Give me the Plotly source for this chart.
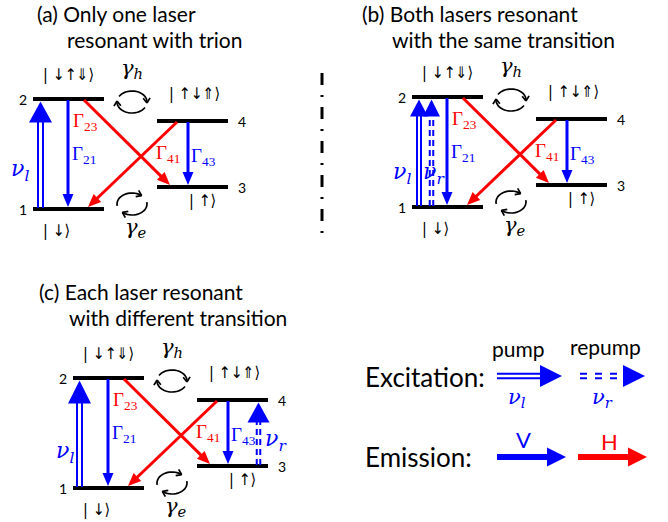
import math
import plotly.graph_objects as go

W, H = 668, 522
BLUE = "#0000FF"
RED = "#FF0000"
BLACK = "#000000"
SANS = "Lato"
SERIF = "Liberation Serif"
MATH = "DejaVu Serif"
SYM = "DejaVu Sans Condensed, DejaVu Sans"

# ---------------- data ----------------
panel_ids = ["a", "b", "c"]
panel_title_1 = ["(a) Only one laser", "(b) Both lasers resonant", "(c) Each laser resonant"]
panel_title_2 = ["resonant with trion", "with the same transition", "with different transition"]

level_ids = [1, 2, 3, 4]
level_kets = ["| ↓⟩", "| ↓↑⇓⟩", "| ↑⟩", "| ↑↓⇑⟩"]
level_rel_energy = [0, 110, 22, 88]          # height above level 1 (px scale of diagram)
level_column = [0, 0, 1, 1]                   # left / right column

decay_from = [2, 2, 4, 4]
decay_to = [1, 3, 1, 3]
decay_pol = ["V", "H", "H", "V"]
decay_names = ["21", "23", "41", "43"]

laser_panel = ["a", "b", "b", "c", "c"]
laser_kind = ["pump", "pump", "repump", "pump", "repump"]
laser_from = [1, 1, 1, 1, 3]
laser_to = [2, 2, 2, 2, 4]
laser_sym = ["l", "l", "r", "l", "r"]

legend_exc = ["pump", "repump"]
legend_exc_sym = ["l", "r"]
legend_em = ["V", "H"]

# ---------------- layout / geometry ----------------
panel_x = {"a": 33, "b": 412, "c": 73}
panel_y = {"a": 99, "b": 97, "c": 378}
col_x = [0, 124]
level_w = 71
decay_x_from = {"21": 35, "23": 51, "41": 144, "43": 155}
decay_x_to = {"21": 35, "23": 137, "41": 55, "43": 155}
decay_label = {"21": (51, 56), "23": (52, 23), "41": (135, 55), "43": (170, 58)}
laser_x = [7.5, 7, 19.5, 6.5, 185.5]
laser_sep = [5, 4, 3.5, 5, 3.5]
laser_head = [(21, 23), (17, 18), (17, 17), (23, 23), (20, 22)]
laser_label = [(-13, 71), (-10, 76), (22, 76), (-8, 74), (203, 62)]
ket_pos = {1: (23, 131), 2: (35, -25), 3: (169, 101), 4: (161, -6)}
num_dx = [-10, -10, 209, 209]
title_pos = {"a": [(35, 13), (65, 39)], "b": [(360, 13), (390, 39)], "c": [(37, 291), (67, 317)]}

shapes = []
annotations = []


def line(x0, y0, x1, y1, color, width, dash="solid"):
    shapes.append(dict(type="line", xref="x", yref="y", x0=x0, y0=y0, x1=x1, y1=y1,
                       line=dict(color=color, width=width, dash=dash), layer="above"))


def head(tx, ty, ux, uy, hl, hw, color):
    bx, by = tx - ux * hl, ty - uy * hl
    px, py = -uy, ux
    path = (f"M{tx:.2f},{ty:.2f} L{bx + px * hw / 2:.2f},{by + py * hw / 2:.2f} "
            f"L{bx - px * hw / 2:.2f},{by - py * hw / 2:.2f} Z")
    shapes.append(dict(type="path", xref="x", yref="y", path=path, fillcolor=color,
                       line=dict(width=0), layer="above"))


def arrow(x0, y0, x1, y1, color, lw, hl, hw, n=1, sep=0.0, dash="solid"):
    dx, dy = x1 - x0, y1 - y0
    L = math.hypot(dx, dy)
    ux, uy = dx / L, dy / L
    px, py = -uy, ux
    bx, by = x1 - ux * (hl - 1), y1 - uy * (hl - 1)
    offs = [0.0] if n == 1 else [-sep / 2, sep / 2]
    for o in offs:
        line(x0 + px * o, y0 + py * o, bx + px * o, by + py * o, color, lw, dash)
    head(x1, y1, ux, uy, hl, hw, color)


def exchange(cx, cy, arcs, rx=15, ry=11):
    for t0, t1 in arcs:
        pts = []
        for i in range(21):
            t = math.radians(t0 + (t1 - t0) * i / 20)
            pts.append((cx + rx * math.cos(t), cy - ry * math.sin(t)))
        path = "M" + " L".join(f"{x:.2f},{y:.2f}" for x, y in pts)
        shapes.append(dict(type="path", xref="x", yref="y", path=path,
                           line=dict(color=BLACK, width=1.7), layer="above"))
        (xa, ya), (xb, yb) = pts[-3], pts[-1]
        L = math.hypot(xb - xa, yb - ya)
        ux, uy = (xb - xa) / L, (yb - ya) / L
        for s in (1, -1):
            a = math.radians(35) * s
            vx = -(ux * math.cos(a) - uy * math.sin(a))
            vy = -(ux * math.sin(a) + uy * math.cos(a))
            line(xb, yb, xb + vx * 6, yb + vy * 6, BLACK, 1.7)


def txt(x, y, s, size, color=BLACK, family=SANS, xanchor="center"):
    annotations.append(dict(x=x, y=y, xref="x", yref="y", text=s, showarrow=False,
                            xanchor=xanchor, yanchor="middle",
                            font=dict(size=size, color=color, family=family)))


def nu(sym):
    return f"<i>ν</i><sub><i>{sym}</i></sub>"


def level_y(p, lid):
    i = level_ids.index(lid)
    return panel_y[p] + (level_rel_energy[1] - level_rel_energy[i])


def level_x0(p, lid):
    return panel_x[p] + col_x[level_column[level_ids.index(lid)]]


# ---------------- panels ----------------
for p, t1, t2 in zip(panel_ids, panel_title_1, panel_title_2):
    (ax, ay), (bx, by) = title_pos[p]
    txt(ax, ay, t1, 21, xanchor="left")
    txt(bx, by, t2, 21, xanchor="left")
    X, Y = panel_x[p], panel_y[p]
    # levels
    for i, lid in enumerate(level_ids):
        ly = level_y(p, lid)
        lx = level_x0(p, lid)
        line(lx, ly, lx + level_w, ly, BLACK, 4)
        txt(X + num_dx[i], ly, str(lid), 14)
        kx, ky = ket_pos[lid]
        txt(X + kx, Y + ky, level_kets[i], 16, family=SYM)
    # decays
    for f, t, pol, nm in zip(decay_from, decay_to, decay_pol, decay_names):
        col = BLUE if pol == "V" else RED
        y0 = level_y(p, f) + 1
        y1 = level_y(p, t) - 2
        arrow(X + decay_x_from[nm], y0, X + decay_x_to[nm], y1, col, 3, 13, 11)
        lx, ly = decay_label[nm]
        txt(X + lx, Y + ly, f"Γ<sub>{nm}</sub>", 19, col, SERIF)
    # exchange symbols
    exchange(X + 99, Y + 3, [(150, -5), (-30, -185)])
    exchange(X + 99, Y + 105, [(190, 50), (10, -130)])
    txt(X + 99, Y - 30, "<i>γ</i><sub><i>h</i></sub>", 21, family=MATH)
    txt(X + 103, Y + 129, "<i>γ</i><sub><i>e</i></sub>", 21, family=MATH)

# lasers
for k, (p, kind, f, t, s) in enumerate(zip(laser_panel, laser_kind, laser_from, laser_to, laser_sym)):
    X = panel_x[p]
    x = X + laser_x[k]
    y0 = level_y(p, f) - 1
    y1 = level_y(p, t) + 2.5
    hl, hw = laser_head[k]
    dash = "solid" if kind == "pump" else "6px,4px"
    arrow(x, y0, x, y1, BLUE, 2, hl, hw, n=2, sep=laser_sep[k], dash=dash)
    lx, ly = laser_label[k]
    txt(X + lx, panel_y[p] + ly, nu(s), 22, BLUE, MATH)

# divider
line(322, 73, 322, 236, BLACK, 3, "12px,10px,2px,10px")

# ---------------- legend ----------------
txt(363, 377, "Excitation:", 26, xanchor="left")
txt(363, 457, "Emission:", 26, xanchor="left")
exc_x = [(497, 562), (580, 645)]
exc_lab = [(518, 348), (605, 346)]
exc_sym = [(517, 398), (602, 398)]
for k, (name, s) in enumerate(zip(legend_exc, legend_exc_sym)):
    x0, x1 = exc_x[k]
    dash = "solid" if name == "pump" else "7px,8px"
    arrow(x0, 376, x1, 376, BLUE, 2, 22, 22, n=2, sep=4.5, dash=dash)
    txt(exc_lab[k][0], exc_lab[k][1], name, 21)
    txt(exc_sym[k][0], exc_sym[k][1], nu(s), 21, BLUE, MATH)
em_x = [(497, 566), (578, 647)]
em_lab = [(523, 439), (609, 441)]
for k, name in enumerate(legend_em):
    col = BLUE if name == "V" else RED
    x0, x1 = em_x[k]
    arrow(x0, 457, x1, 457, col, 6, 19, 19)
    txt(em_lab[k][0], em_lab[k][1], name, 22, col)

fig = go.Figure(go.Scatter(x=[0, W], y=[0, H], mode="markers",
                           marker=dict(opacity=0), hoverinfo="skip"))
fig.update_layout(
    width=W, height=H, margin=dict(l=0, r=0, t=0, b=0),
    paper_bgcolor="white", plot_bgcolor="white", showlegend=False,
    xaxis=dict(range=[0, W], visible=False, fixedrange=True),
    yaxis=dict(range=[H, 0], visible=False, fixedrange=True),
    shapes=shapes, annotations=annotations,
)
fig.write_html("out.html", config={"displayModeBar": False},
               post_script="document.body.style.margin='0';document.body.style.overflow='hidden';")
